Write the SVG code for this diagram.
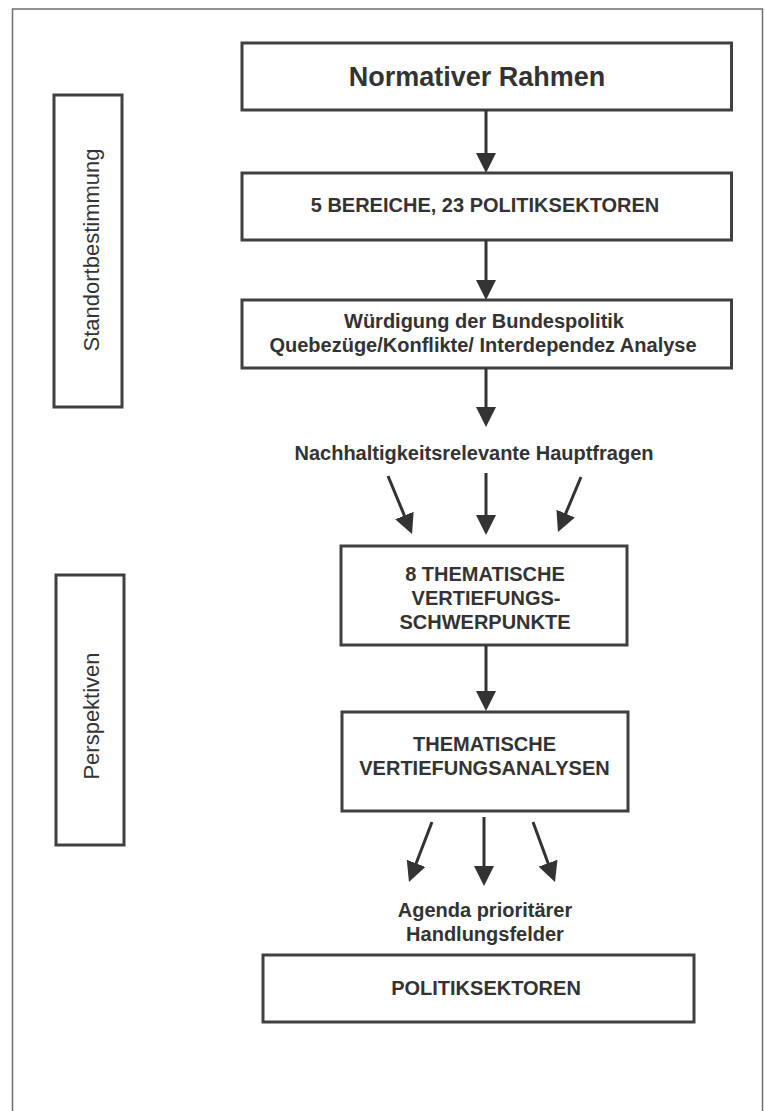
<svg xmlns="http://www.w3.org/2000/svg" width="765" height="1111" viewBox="0 0 765 1111">
<style>
  .frame{fill:none;stroke:#6e6e6e;stroke-width:1.5}
  .box{fill:#fff;stroke:#404040;stroke-width:3}
  .t{font-family:"Liberation Sans",Arial,Helvetica,sans-serif;font-weight:bold;font-size:20px;fill:#333;text-anchor:middle}
  .title{font-size:27px}
  .side{font-family:"Liberation Sans",Arial,Helvetica,sans-serif;font-size:22px;fill:#333;text-anchor:middle}
  .arr{stroke:#333;stroke-width:3;fill:none;marker-end:url(#ah)}
</style>
<defs>
  <marker id="ah" viewBox="0 0 20 20" refX="16" refY="10" markerWidth="20" markerHeight="20" markerUnits="userSpaceOnUse" orient="auto">
    <path d="M0,0 L20,10 L0,20 z" fill="#333"/>
  </marker>
</defs>
<rect width="765" height="1111" fill="#fff"/>
<rect class="frame" x="12.5" y="9" width="750" height="1120"/>

<g id="side-standort">
  <rect class="box" x="54" y="95" width="68" height="312"/>
  <text class="side" transform="translate(99,250) rotate(-90)">Standortbestimmung</text>
</g>
<g id="side-perspektiven">
  <rect class="box" x="56" y="575" width="68" height="270"/>
  <text class="side" transform="translate(99,716) rotate(-90)">Perspektiven</text>
</g>

<g id="n-normativ">
  <rect class="box" x="242" y="43" width="489.5" height="67"/>
  <text class="t title" x="477" y="86">Normativer Rahmen</text>
</g>
<g id="n-bereiche">
  <rect class="box" x="242" y="173" width="489.5" height="67"/>
  <text class="t" x="485" y="212">5 BEREICHE, 23 POLITIKSEKTOREN</text>
</g>
<g id="n-wuerdigung">
  <rect class="box" x="242" y="300" width="489.5" height="68"/>
  <text class="t" x="484" y="328">Würdigung der Bundespolitik</text>
  <text class="t" x="483" y="352">Quebezüge/Konflikte/ Interdependez Analyse</text>
</g>
<g id="n-hauptfragen">
  <text class="t" x="474" y="460">Nachhaltigkeitsrelevante Hauptfragen</text>
</g>
<g id="n-schwerpunkte">
  <rect class="box" x="341" y="546" width="286" height="99"/>
  <text class="t" x="485" y="581">8 THEMATISCHE</text>
  <text class="t" x="486" y="605">VERTIEFUNGS-</text>
  <text class="t" x="485" y="629">SCHWERPUNKTE</text>
</g>
<g id="n-analysen">
  <rect class="box" x="342" y="712" width="286" height="99"/>
  <text class="t" x="484.5" y="751">THEMATISCHE</text>
  <text class="t" x="484.5" y="775">VERTIEFUNGSANALYSEN</text>
</g>
<g id="n-agenda">
  <text class="t" x="485" y="917">Agenda prioritärer</text>
  <text class="t" x="485" y="941">Handlungsfelder</text>
</g>
<g id="n-politiksektoren">
  <rect class="box" x="263" y="955" width="431" height="67"/>
  <text class="t" x="486" y="995">POLITIKSEKTOREN</text>
</g>

<g id="connectors">
  <line class="arr" x1="486" y1="110" x2="486" y2="169"/>
  <line class="arr" x1="486" y1="240" x2="486" y2="296"/>
  <line class="arr" x1="486" y1="368" x2="486" y2="423"/>
  <line class="arr" x1="388" y1="476" x2="410.5" y2="530.3"/>
  <line class="arr" x1="486" y1="473" x2="486" y2="531"/>
  <line class="arr" x1="581" y1="477" x2="559.5" y2="528.3"/>
  <line class="arr" x1="486" y1="645" x2="486" y2="707"/>
  <line class="arr" x1="432" y1="822" x2="410.4" y2="878.3"/>
  <line class="arr" x1="484" y1="817" x2="484" y2="882"/>
  <line class="arr" x1="533" y1="822" x2="553.6" y2="878.2"/>
</g>
</svg>
